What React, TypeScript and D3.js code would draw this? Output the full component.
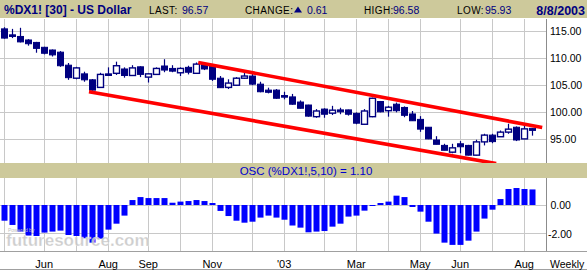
import React from 'react';
import * as d3 from 'd3';

const weeks = [
  '2002-05-03','2002-05-10','2002-05-17','2002-05-24','2002-05-31',
  '2002-06-07','2002-06-14','2002-06-21','2002-06-28',
  '2002-07-05','2002-07-12','2002-07-19','2002-07-26',
  '2002-08-02','2002-08-09','2002-08-16','2002-08-23','2002-08-30',
  '2002-09-06','2002-09-13','2002-09-20','2002-09-27',
  '2002-10-04','2002-10-11','2002-10-18','2002-10-25',
  '2002-11-01','2002-11-08','2002-11-15','2002-11-22','2002-11-29',
  '2002-12-06','2002-12-13','2002-12-20','2002-12-27',
  '2003-01-03','2003-01-10','2003-01-17','2003-01-24','2003-01-31',
  '2003-02-07','2003-02-14','2003-02-21','2003-02-28',
  '2003-03-07','2003-03-14','2003-03-21','2003-03-28',
  '2003-04-04','2003-04-11','2003-04-18','2003-04-25',
  '2003-05-02','2003-05-09','2003-05-16','2003-05-23','2003-05-30',
  '2003-06-06','2003-06-13','2003-06-20','2003-06-27',
  '2003-07-04','2003-07-11','2003-07-18','2003-07-25',
  '2003-08-01','2003-08-08',
];

const open = [
  115.3, 114.2, 113.9, 113.25, 112.8, 111.9, 111.4, 111.0, 108.6, 106.2,
  107.0, 105.9, 104.5, 107.0, 107.1, 107.9, 106.7, 108.3, 106.4, 106.9,
  108.45, 108.0, 107.2, 108.2, 107.1, 108.8, 108.4, 106.2, 104.5, 104.9,
  106.2, 106.6, 105.1, 104.0, 104.0, 103.0, 102.75, 101.8, 101.25, 99.1,
  100.5, 99.75, 100.35, 100.35, 99.7, 97.7, 99.1, 101.9, 100.2, 101.4,
  100.8, 99.6, 98.6, 97.15, 94.8, 93.8, 92.55, 94.1, 93.8, 92.0,
  94.45, 95.7, 95.4, 96.25, 97.15, 95.0, 96.95,
];
const high = [
  115.6, 115.3, 115.5, 113.4, 112.9, 112.0, 111.5, 111.2, 109.0, 108.3,
  107.4, 106.05, 107.2, 108.2, 109.25, 108.2, 108.6, 108.4, 107.1, 108.2,
  109.7, 108.6, 108.2, 108.5, 109.1, 109.0, 108.5, 106.6, 106.0, 106.4,
  107.2, 107.1, 105.55, 104.45, 104.2, 103.7, 103.3, 102.1, 101.3, 100.5,
  100.65, 101.1, 100.75, 100.4, 99.9, 100.5, 102.6, 102.0, 101.1, 101.7,
  101.0, 100.15, 99.2, 97.2, 95.5, 94.1, 94.1, 94.6, 93.9, 94.85,
  95.95, 95.95, 96.55, 97.8, 97.3, 97.7, 97.0,
];
const low = [
  113.5, 113.6, 112.8, 112.2, 110.9, 110.6, 110.2, 108.3, 105.9, 106.0,
  105.55, 103.9, 104.4, 106.65, 106.8, 106.3, 106.6, 106.4, 105.4, 106.8,
  107.3, 107.3, 106.6, 106.9, 107.0, 107.7, 105.7, 104.4, 104.2, 104.8,
  106.1, 104.9, 103.6, 103.4, 102.4, 102.3, 101.3, 100.6, 99.1, 98.9,
  98.9, 99.4, 99.55, 99.3, 97.7, 97.6, 99.0, 99.9, 99.1, 99.9,
  99.0, 98.3, 96.3, 94.95, 94.0, 92.9, 92.35, 92.35, 91.95, 91.95,
  93.8, 94.2, 95.35, 95.95, 94.6, 94.95, 95.6,
];
const close = [
  113.6, 113.9, 112.9, 112.56, 111.7, 110.8, 110.5, 108.5, 106.3, 108.1,
  105.9, 104.0, 106.9, 106.7, 108.5, 106.7, 108.1, 106.9, 107.0, 108.0,
  107.7, 107.5, 108.0, 107.3, 108.8, 107.9, 106.0, 104.45, 105.3, 106.2,
  106.6, 105.1, 103.7, 103.6, 102.5, 102.7, 101.4, 100.65, 99.2, 100.15,
  99.55, 100.3, 100.0, 99.55, 97.9, 100.15, 102.5, 100.0, 100.85, 100.2,
  99.35, 98.35, 96.8, 95.0, 94.0, 92.9, 93.35, 93.55, 92.0, 94.45,
  95.7, 94.5, 96.25, 96.8, 94.8, 96.85, 96.57,
];

const osc = [
  -1.11, -1.41, -1.88, -2.16, -2.19, -1.95, -1.88, -1.81, -2.12, -2.19,
  -2.35, -2.66, -2.38, -1.74, -1.32, -0.75, 0.35, 0.56, 0.49, 0.49,
  0.49, 0.16, 0.24, 0.28, 0.35, 0.28, 0.14, -0.42, -0.78, -1.11,
  -1.25, -1.18, -0.89, -0.75, -0.89, -1.04, -1.45, -1.6, -1.93, -1.88,
  -1.84, -1.53, -1.32, -0.82, -0.75, -0.4, -0.05, 0.14, 0.24, 0.66,
  0.56, -0.14, -0.47, -1.18, -2.02, -2.66, -2.82, -2.82, -2.52, -1.88,
  -0.96, -0.33, 0.42, 1.13, 1.2, 1.13, 1.10,
];

const priceTicks = [115, 110, 105, 100, 95];
const oscTicks = [0, -2];
const monthLabelDates = ['2002-06-07','2002-08-02','2002-09-06','2002-11-01','2003-01-03','2003-03-07','2003-05-02','2003-06-06','2003-08-01'];
const monthLabelTexts = ['Jun','Aug','Sep','Nov',"'03",'Mar','May','Jun','Aug'];

// trend channel: [start week index, start price, end week index, end price]
const upperTrend = [24.25, 109.1, 67.25, 97.1];
const lowerTrend = [10.6, 103.7, 61.5, 90.45];

const TAN = '#CDC99B';
const NAVY = '#000080';
const GRID = '#C8C8C8';
const FONT = "'Liberation Sans', Arial, sans-serif";

export default function App() {
  const W = 587, H = 272;
  const plotR = 546, mainTop = 19, mainBot = 163, oscTop = 178, oscBot = 252;

  const x = d3.scaleLinear().domain([0, weeks.length - 1]).range([4.2, 532.2]);
  const y = d3.scaleLinear().domain([95, 115]).range([138.9, 30.5]);
  const yo = d3.scaleLinear().domain([-2, 0]).range([233.3, 205]);

  const px = (v: number) => Math.round(v) + 0.5;

  const monthStarts = weeks
    .map((w, i) => ({ w, i }))
    .filter(({ w, i }) => i === 0 || w.slice(0, 7) !== weeks[i - 1].slice(0, 7));

  const line = d3.line<[number, number]>().x(d => x(d[0])).y(d => y(d[1]));

  return (
    <svg width={W} height={H} style={{ position: 'absolute', left: 0, top: 0, display: 'block', background: '#fff' }}
      fontFamily={FONT}>
      <defs>
        <clipPath id="mainClip"><rect x={0} y={mainTop} width={plotR} height={mainBot - mainTop} /></clipPath>
        <clipPath id="oscClip"><rect x={0} y={oscTop} width={plotR} height={oscBot - oscTop} /></clipPath>
      </defs>
      <rect x={0} y={0} width={W} height={H} fill="#fff" />

      {/* header */}
      <rect x={0} y={0} width={W} height={18} fill={TAN} />
      <text x={4} y={14} fontSize={12} fontWeight="bold" fill={NAVY}>%DX1! [30] - US Dollar</text>
      <text x={149} y={14} fontSize={10} fill="#000" letterSpacing={0.4}>LAST:</text>
      <text x={182} y={14} fontSize={10.5} fill={NAVY}>96.57</text>
      <text x={245} y={14} fontSize={10} fill="#000" letterSpacing={0.4}>CHANGE:</text>
      <path d="M294,12.5 L298,6.5 L302,12.5 Z" fill={NAVY} />
      <text x={307} y={14} fontSize={10.5} fill={NAVY}>0.61</text>
      <text x={364} y={14} fontSize={10} fill="#000" letterSpacing={0.4}>HIGH:</text>
      <text x={393} y={14} fontSize={10.5} fill={NAVY}>96.58</text>
      <text x={457} y={14} fontSize={10} fill="#000" letterSpacing={0.4}>LOW:</text>
      <text x={485} y={14} fontSize={10.5} fill={NAVY}>95.93</text>
      <text x={585} y={14.5} fontSize={12.5} fontWeight="bold" fill={NAVY} textAnchor="end">8/8/2003</text>

      {/* main grid */}
      {priceTicks.map(t => (
        <line key={'pg' + t} x1={0} x2={plotR} y1={px(y(t))} y2={px(y(t))} stroke={GRID} />
      ))}
      {monthStarts.map(({ i }) => (
        <line key={'vg' + i} x1={px(x(i))} x2={px(x(i))} y1={mainTop} y2={mainBot} stroke={GRID} />
      ))}

      {/* candles */}
      <g clipPath="url(#mainClip)">
        {weeks.map((w, i) => {
          const cx = Math.round(x(i));
          const up = close[i] >= open[i];
          const top = y(Math.max(open[i], close[i]));
          const bot = y(Math.min(open[i], close[i]));
          const h = Math.max(1, bot - top);
          return (
            <g key={w}>
              <line x1={cx + 0.5} x2={cx + 0.5} y1={y(high[i])} y2={y(low[i])} stroke={NAVY} strokeWidth={1.2} />
              <rect x={cx - 2.5} y={top} width={6} height={h}
                fill={up ? '#fff' : NAVY} stroke={NAVY} strokeWidth={up ? 1.4 : 1} />
            </g>
          );
        })}
        <path d={line([[upperTrend[0], upperTrend[1]], [upperTrend[2], upperTrend[3]]]) || ''} stroke="#FF0000" strokeWidth={3.6} fill="none" />
        <path d={line([[lowerTrend[0], lowerTrend[1]], [lowerTrend[2], lowerTrend[3]]]) || ''} stroke="#FF0000" strokeWidth={3.6} fill="none" />
      </g>

      {/* right price axis */}
      <line x1={plotR + 0.5} x2={plotR + 0.5} y1={mainTop} y2={mainBot} stroke="#8C8C8C" />
      {priceTicks.map(t => (
        <text key={'pl' + t} x={550} y={y(t) + 4.5} fontSize={10.5} fill="#000">{t.toFixed(2)}</text>
      ))}

      {/* OSC band */}
      <rect x={0} y={mainBot} width={W} height={oscTop - mainBot} fill={TAN} />
      <text x={306} y={174.5} fontSize={11.5} fill="#0000CC" textAnchor="middle">OSC (%DX1!,5,10) = 1.10</text>

      {/* osc grid */}
      {oscTicks.map(t => (
        <line key={'og' + t} x1={0} x2={plotR} y1={px(yo(t))} y2={px(yo(t))} stroke={GRID} />
      ))}
      {monthStarts.map(({ i }) => (
        <line key={'ovg' + i} x1={px(x(i))} x2={px(x(i))} y1={oscTop} y2={oscBot} stroke={GRID} />
      ))}
      <g clipPath="url(#oscClip)">
        {osc.map((v, i) => {
          const cx = Math.round(x(i));
          const y0 = yo(0), y1 = yo(v);
          return (
            <rect key={'ob' + i} x={cx - 2.5} y={Math.min(y0, y1)} width={6} height={Math.max(1, Math.abs(y1 - y0))} fill="#0000FF" />
          );
        })}
      </g>
      <line x1={plotR + 0.5} x2={plotR + 0.5} y1={oscTop} y2={oscBot} stroke="#8C8C8C" />
      {oscTicks.map(t => (
        <text key={'ol' + t} x={t < 0 ? 548 : 550.5} y={yo(t) + 4.3} fontSize={10.5} fill="#000">{t.toFixed(2)}</text>
      ))}

      {/* watermark */}
      <text x={8} y={231.5} fontSize={5} fill="#c0c0c0">Powered by</text>
      <text x={6} y={246} fontSize={17} fontWeight="bold" fill="#c6c6c6" fillOpacity={0.9} stroke="#ffffff" strokeOpacity={0.5} strokeWidth={0.6}>futuresource.com</text>

      {/* x axis */}
      <line x1={0} x2={W} y1={251.5} y2={251.5} stroke="#A0A0A0" />
      <line x1={0} x2={W} y1={269.5} y2={269.5} stroke="#A0A0A0" />
      {monthLabelDates.map((d, j) => (
        <text key={'ml' + j} x={x(weeks.indexOf(d))} y={267.5} fontSize={11} textAnchor="middle" fill="#000">{monthLabelTexts[j]}</text>
      ))}
      <text x={550} y={267.5} fontSize={10.5} fill="#000">Weekly</text>
    </svg>
  );
}
